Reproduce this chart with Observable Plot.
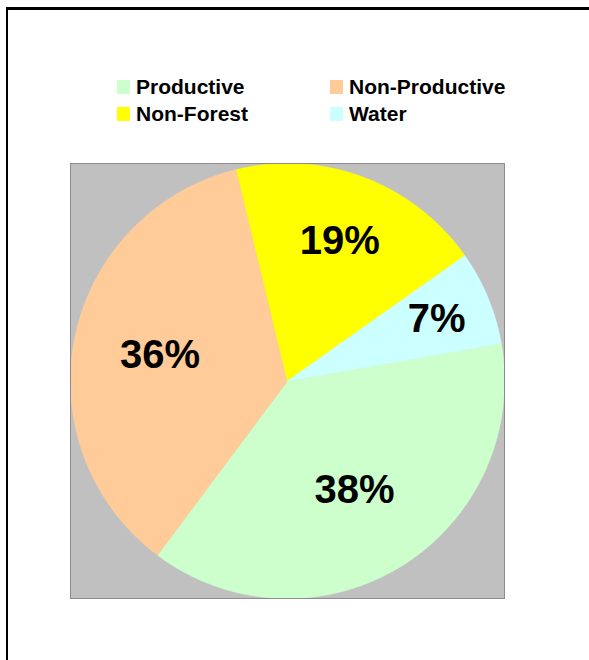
<!DOCTYPE html>
<html><head><meta charset="utf-8">
<script src="https://cdn.jsdelivr.net/npm/d3@7"></script>
<script src="https://cdn.jsdelivr.net/npm/@observablehq/plot@0.6"></script>
<style>
html,body{margin:0;padding:0;background:#fff;overflow:hidden;width:589px;height:660px;}
#page{position:relative;width:589px;height:660px;overflow:hidden;font-family:"Liberation Sans",Arial,Helvetica,sans-serif;}
#topline{position:absolute;left:6px;top:7px;width:583px;height:3px;background:#000;}
#leftline{position:absolute;left:6px;top:7px;width:2px;height:653px;background:#000;}
#legend{position:absolute;left:117px;top:73px;display:grid;grid-template-columns:213px auto;}
.item{display:flex;align-items:center;height:27px;}
.sw{width:13px;height:14px;margin-right:6px;flex:none;}
.lab{font-size:21px;font-weight:bold;line-height:27px;color:#000;white-space:nowrap;}
#chart{position:absolute;left:0;top:140px;}
</style></head><body>
<div id="page"><div id="topline"></div><div id="leftline"></div><div id="legend"></div><div id="chart"></div></div>
<script>
// Data
const categories = ["Productive", "Non-Productive", "Non-Forest", "Water"];
const percents = [38, 36, 19, 7];
const colors = ["#CCFFCC", "#FFCC99", "#FFFF00", "#CCFFFF"];

// Legend
const legend = document.getElementById("legend");
categories.forEach((c, i) => {
  const item = document.createElement("div");
  item.className = "item";
  const sw = document.createElement("span");
  sw.className = "sw";
  sw.style.background = colors[i];
  const lab = document.createElement("span");
  lab.className = "lab";
  lab.textContent = c;
  item.appendChild(sw);
  item.appendChild(lab);
  legend.appendChild(item);
});

// Pie geometry (angles clockwise from 12 o'clock, in degrees)
const startDeg = 80;
const total = d3.sum(percents);
let acc = startDeg;
const slices = categories.map((c, i) => {
  const a0 = acc;
  const a1 = acc + (percents[i] / total) * 360;
  acc = a1;
  return {category: c, value: percents[i], a0, a1};
});
const rad = (d) => (d * Math.PI) / 180;
const points = [];
for (const s of slices) {
  points.push({category: s.category, x: 0, y: 0});
  const n = Math.max(2, Math.ceil((s.a1 - s.a0) / 0.5));
  for (let k = 0; k <= n; ++k) {
    const a = rad(s.a0 + ((s.a1 - s.a0) * k) / n);
    points.push({category: s.category, x: Math.sin(a), y: Math.cos(a)});
  }
  points.push({category: s.category, x: 0, y: 0});
}
const labels = slices.map((s) => {
  const f = s.value / total;
  const r = 0.78 - 0.5 * f;
  const m = rad((s.a0 + s.a1) / 2);
  return {x: r * Math.sin(m), y: r * Math.cos(m), text: `${s.value}%`};
});

const chart = Plot.plot({
  width: 589,
  height: 480,
  marginLeft: 70,
  marginRight: 85,
  marginTop: 23,
  marginBottom: 22,
  x: {domain: [-1, 1], axis: null},
  y: {domain: [-1, 1], axis: null},
  color: {domain: categories, range: colors},
  style: {background: "transparent", fontFamily: "'Liberation Sans', Arial, sans-serif", overflow: "visible"},
  marks: [
    Plot.frame({fill: "#C0C0C0", stroke: "none"}),
    Plot.line(points, {x: "x", y: "y", z: "category", fill: "category", stroke: "category", strokeWidth: 0.6, curve: "linear"}),
    Plot.frame({stroke: "#8c8c8c", strokeWidth: 1}),
    Plot.text(labels, {x: "x", y: "y", text: "text", fontSize: 40, fontWeight: "bold", fill: "#000", fontFamily: "'Liberation Sans', Arial, sans-serif"})
  ]
});
document.getElementById("chart").appendChild(chart);
</script>
</body></html>
